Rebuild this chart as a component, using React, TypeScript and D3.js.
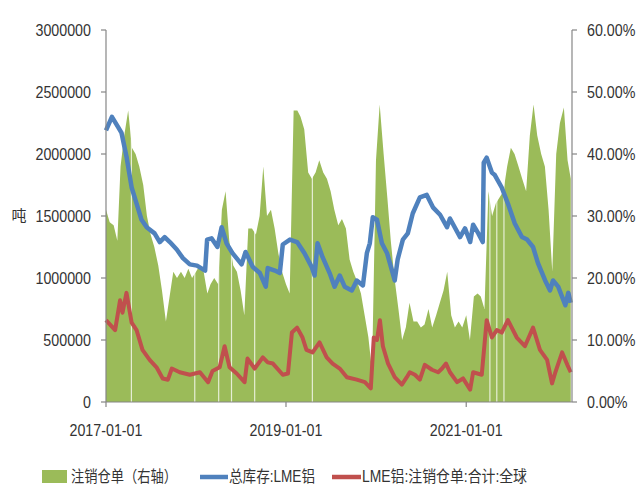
import * as d3 from 'd3';

const W = 638;
const H = 492;
const margin = { top: 30, right: 66, bottom: 90, left: 106 };

// 注销仓单占比 (%), semimonthly: 1st and 16th of each month, from 2017-01-01
const cancelPct = [
  // 2017
  31, 29, 28.5, 26, 38, 43, 47, 41, 40, 38, 35, 30, 27, 25, 22, 18, 13, 17, 21, 20, 21, 20, 21.5, 20,
  // 2018
  21, 22, 21, 17.5, 19, 20, 19, 31, 34, 26, 22, 21, 18, 14, 28, 28, 27, 30, 38, 30, 31, 28, 24, 21,
  // 2019
  19, 17.5, 47, 47, 46, 44, 37, 36, 37, 39, 37, 36, 34, 31, 28.5, 29.5, 28, 23, 21, 19.5, 17.5, 14, 10.5, 5,
  // 2020
  39, 48, 40, 33, 26, 20, 15, 10, 12, 16, 13, 13, 12, 12.5, 15, 12, 14, 16, 18, 21, 14, 12, 13, 12,
  // 2021
  14, 10, 17, 17.5, 17, 15, 34, 30, 32, 33, 34, 38, 41, 40, 38, 36, 34, 43, 48, 43, 40, 38, 31, 21,
  // 2022
  40, 45, 47.5, 39, 36,
];

// days with no cancelled warrants (gaps in the area)
const zeroDays = [
  '2017-04-14', '2017-12-27', '2018-04-03', '2018-05-25', '2018-08-27',
  '2019-04-18', '2021-04-07', '2021-05-05', '2021-06-03',
];

// 总库存:LME铝 (吨)
const stockDates = [
  '2017-01-01', '2017-01-25', '2017-02-18', '2017-03-05', '2017-03-25', '2017-04-15', '2017-05-05',
  '2017-05-25', '2017-06-15', '2017-07-17', '2017-08-07', '2017-08-27', '2017-09-17', '2017-10-15',
  '2017-11-09', '2017-12-07', '2018-01-05', '2018-02-07', '2018-02-15', '2018-03-05', '2018-03-29',
  '2018-04-15', '2018-05-05', '2018-05-29', '2018-07-05', '2018-07-21', '2018-08-19', '2018-09-17',
  '2018-10-11', '2018-10-19', '2018-11-17', '2018-12-07', '2018-12-19', '2019-01-17', '2019-02-15',
  '2019-03-17', '2019-04-15', '2019-04-27', '2019-05-09', '2019-05-29', '2019-06-27', '2019-07-17',
  '2019-08-07', '2019-08-27', '2019-09-25', '2019-10-15', '2019-11-09', '2019-11-25', '2019-12-07',
  '2019-12-19', '2020-01-05', '2020-01-25', '2020-02-15', '2020-03-17', '2020-03-29', '2020-04-19',
  '2020-05-09', '2020-05-29', '2020-06-27', '2020-07-25', '2020-08-19', '2020-09-17', '2020-10-15',
  '2020-10-27', '2020-12-07', '2020-12-27', '2021-01-17', '2021-01-29', '2021-02-19', '2021-03-09',
  '2021-03-13', '2021-03-25', '2021-04-15', '2021-04-27', '2021-05-25', '2021-06-19', '2021-07-17',
  '2021-08-15', '2021-09-05', '2021-09-29', '2021-10-19', '2021-11-17', '2021-12-07', '2021-12-19',
  '2022-01-09', '2022-02-07', '2022-02-19', '2022-03-01',
];
const stockTons = [
  2190000, 2300000, 2220000, 2170000, 1980000, 1730000, 1600000,
  1470000, 1410000, 1360000, 1290000, 1330000, 1290000, 1230000,
  1160000, 1110000, 1100000, 1060000, 1310000, 1320000, 1250000,
  1410000, 1280000, 1200000, 1110000, 1210000, 1090000, 1040000,
  930000, 1080000, 1060000, 1040000, 1270000, 1310000, 1290000,
  1200000, 1090000, 1020000, 1280000, 1170000, 1040000, 930000,
  1020000, 930000, 900000, 980000, 940000, 1200000, 1280000,
  1490000, 1470000, 1280000, 1200000, 980000, 1150000, 1310000,
  1360000, 1520000, 1650000, 1670000, 1570000, 1510000, 1410000,
  1480000, 1330000, 1400000, 1290000, 1430000, 1360000, 1290000,
  1930000, 1970000, 1850000, 1830000, 1730000, 1600000, 1440000,
  1330000, 1310000, 1250000, 1120000, 980000, 900000, 980000,
  930000, 780000, 880000, 800000,
];

// LME铝:注销仓单:合计:全球 (吨)
const cancelDates = [
  '2017-01-01', '2017-02-07', '2017-02-27', '2017-03-09', '2017-03-25', '2017-04-15', '2017-05-05',
  '2017-05-29', '2017-06-27', '2017-07-25', '2017-08-19', '2017-09-09', '2017-09-25', '2017-10-27',
  '2017-12-07', '2018-01-17', '2018-02-19', '2018-03-09', '2018-04-07', '2018-04-27', '2018-05-17',
  '2018-06-15', '2018-07-17', '2018-07-29', '2018-08-27', '2018-09-29', '2018-10-19', '2018-11-09',
  '2018-12-19', '2019-01-09', '2019-01-25', '2019-02-15', '2019-03-09', '2019-03-25', '2019-04-19',
  '2019-05-17', '2019-06-15', '2019-07-09', '2019-08-07', '2019-09-05', '2019-10-15', '2019-11-17',
  '2019-12-11', '2019-12-23', '2020-01-05', '2020-01-17', '2020-01-29', '2020-02-19', '2020-03-17',
  '2020-04-15', '2020-05-05', '2020-05-17', '2020-06-07', '2020-06-27', '2020-07-17', '2020-08-15',
  '2020-09-09', '2020-09-25', '2020-10-11', '2020-10-27', '2020-11-25', '2020-12-19', '2021-01-17',
  '2021-01-29', '2021-03-05', '2021-03-25', '2021-04-15', '2021-05-05', '2021-05-25', '2021-06-19',
  '2021-07-25', '2021-08-27', '2021-09-29', '2021-10-27', '2021-11-25', '2021-12-15', '2021-12-27',
  '2022-01-25', '2022-02-15', '2022-03-01',
];
const cancelTons = [
  660000, 580000, 820000, 720000, 880000, 640000, 580000,
  420000, 340000, 280000, 190000, 180000, 270000, 240000,
  220000, 240000, 160000, 250000, 280000, 450000, 280000,
  230000, 160000, 350000, 270000, 360000, 320000, 310000,
  220000, 230000, 560000, 600000, 520000, 420000, 400000,
  480000, 360000, 310000, 270000, 200000, 180000, 160000,
  110000, 520000, 500000, 660000, 450000, 310000, 200000,
  140000, 200000, 240000, 220000, 180000, 300000, 260000,
  240000, 270000, 310000, 240000, 160000, 190000, 100000,
  240000, 220000, 660000, 520000, 580000, 560000, 660000,
  520000, 450000, 600000, 420000, 340000, 150000, 230000,
  400000, 300000, 240000,
];

const leftTicks = [0, 500000, 1000000, 1500000, 2000000, 2500000, 3000000];
const rightTicks = [0, 10, 20, 30, 40, 50, 60];
const xTickDates = ['2017-01-01', '2019-01-01', '2021-01-01'];

const GREEN = '#9bbb59';
const BLUE = '#4f81bd';
const RED = '#c0504d';
const AXIS = '#868686';
const TEXT = '#333333';
const NUM_FONT = "'Liberation Sans', Arial, sans-serif";
const CJK_FONT = "'Liberation Sans', 'Noto Sans CJK SC', sans-serif";
const SQUEEZE = 0.84; // labels in the original are horizontally condensed

const parse = d3.timeParse('%Y-%m-%d');

function Label({ x, y, anchor, children }: { x: number; y: number; anchor: string; children: any }) {
  return (
    <g transform={`translate(${x},${y}) scale(${SQUEEZE},1)`}>
      <text dy="0.35em" textAnchor={anchor} fontFamily={NUM_FONT} fontSize={17} fill={TEXT}>
        {children}
      </text>
    </g>
  );
}

export default function App() {
  const x0 = margin.left;
  const x1 = W - margin.right;
  const y0 = H - margin.bottom;
  const y1 = margin.top;

  const x = d3.scaleTime().domain([parse('2017-01-01')!, parse('2022-03-06')!]).range([x0, x1]);
  const yL = d3.scaleLinear().domain([0, 3000000]).range([y0, y1]);
  const yR = d3.scaleLinear().domain([0, 60]).range([y0, y1]);

  const months = d3.timeMonth.range(parse('2017-01-01')!, parse('2022-04-01')!);
  const halfMonths = months.flatMap(m => [m, d3.timeDay.offset(m, 15)]);
  const pctData = cancelPct.map((v, i) => ({ date: halfMonths[i], v }));

  const area = d3
    .area<{ date: Date; v: number }>()
    .x(d => x(d.date))
    .y0(y0)
    .y1(d => yR(d.v));

  const line = d3
    .line<[Date, number]>()
    .x(d => x(d[0]))
    .y(d => yL(d[1]));

  const stockData: [Date, number][] = stockDates.map((d, i) => [parse(d)!, stockTons[i]]);
  const cancelData: [Date, number][] = cancelDates.map((d, i) => [parse(d)!, cancelTons[i]]);

  const legendY = 476;

  return (
    <svg
      width={W}
      height={H}
      style={{ position: 'absolute', left: 0, top: 0, background: '#fff' }}
    >
      <rect width={W} height={H} fill="#fff" />
      <path d={area(pctData) || ''} fill={GREEN} />
      {zeroDays.map(d => (
        <line
          key={d}
          x1={x(parse(d)!)}
          x2={x(parse(d)!)}
          y1={y0}
          y2={y1}
          stroke="#fff"
          strokeOpacity={0.75}
          strokeWidth={1.2}
        />
      ))}
      <path d={line(stockData) || ''} fill="none" stroke={BLUE} strokeWidth={4.5} strokeLinejoin="round" />
      <path d={line(cancelData) || ''} fill="none" stroke={RED} strokeWidth={4} strokeLinejoin="round" />

      {/* left axis */}
      <line x1={x0} x2={x0} y1={y1} y2={y0} stroke={AXIS} strokeWidth={1.2} />
      {leftTicks.map(t => (
        <g key={t}>
          <line x1={x0 - 5} x2={x0} y1={yL(t)} y2={yL(t)} stroke={AXIS} strokeWidth={1.2} />
          <Label x={x0 - 15} y={yL(t)} anchor="end">{t}</Label>
        </g>
      ))}
      <text x={19} y={216} dy="0.35em" textAnchor="middle" fontFamily="'Noto Sans CJK SC', sans-serif" fontSize={15} fill={TEXT}>
        吨
      </text>

      {/* right axis */}
      <line x1={x1} x2={x1} y1={y1} y2={y0} stroke={AXIS} strokeWidth={1.2} />
      {rightTicks.map(t => (
        <g key={t}>
          <line x1={x1} x2={x1 + 5} y1={yR(t)} y2={yR(t)} stroke={AXIS} strokeWidth={1.2} />
          <Label x={x1 + 15} y={yR(t)} anchor="start">{`${t.toFixed(2)}%`}</Label>
        </g>
      ))}

      {/* bottom axis */}
      <line x1={x0} x2={x1} y1={y0} y2={y0} stroke={AXIS} strokeWidth={1.2} />
      {xTickDates.map(d => (
        <g key={d}>
          <line x1={x(parse(d)!)} x2={x(parse(d)!)} y1={y0} y2={y0 + 5} stroke={AXIS} strokeWidth={1.2} />
          <Label x={x(parse(d)!)} y={y0 + 28} anchor="middle">{d}</Label>
        </g>
      ))}

      {/* legend */}
      <rect x={42} y={legendY - 6} width={25} height={13} fill={GREEN} />
      <text x={71} y={legendY} dy="0.35em" fontFamily={CJK_FONT} fontSize={16} fill={TEXT} textLength={106} lengthAdjust="spacingAndGlyphs">
        注销仓单（右轴）
      </text>
      <line x1={200} x2={228} y1={legendY + 1} y2={legendY + 1} stroke={BLUE} strokeWidth={4.5} />
      <text x={229} y={legendY} dy="0.35em" fontFamily={CJK_FONT} fontSize={16} fill={TEXT} textLength={86} lengthAdjust="spacingAndGlyphs">
        总库存:LME铝
      </text>
      <line x1={332} x2={361} y1={legendY + 1} y2={legendY + 1} stroke={RED} strokeWidth={4.5} />
      <text x={362} y={legendY} dy="0.35em" fontFamily={CJK_FONT} fontSize={16} fill={TEXT} textLength={165} lengthAdjust="spacingAndGlyphs">
        LME铝:注销仓单:合计:全球
      </text>
    </svg>
  );
}
